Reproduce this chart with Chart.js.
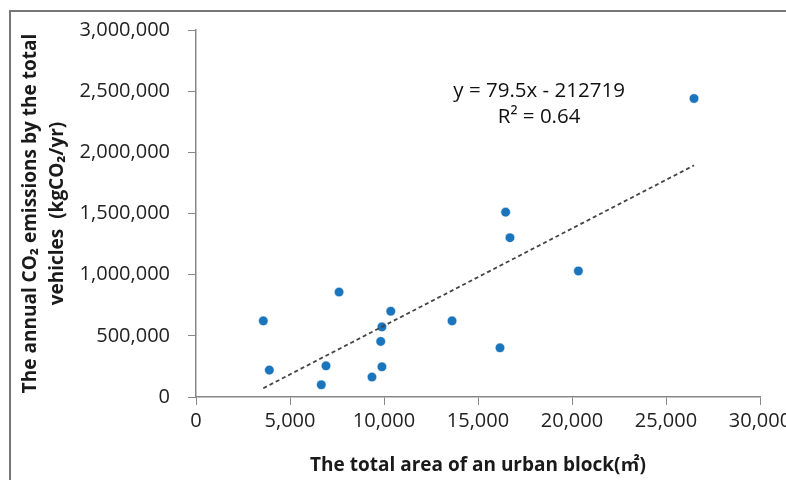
<!DOCTYPE html>
<html>
<head>
<meta charset="utf-8">
<script src="https://cdn.jsdelivr.net/npm/chart.js@4/dist/chart.umd.min.js"></script>
<style>
  html, body { margin: 0; padding: 0; background: #fff; overflow: hidden; }
  .wrap { position: relative; width: 786px; height: 480px; overflow: hidden; }
  .wrap canvas { position: absolute; left: 0; top: 0; }
  .frame {
    position: absolute; left: 9px; top: 10px; right: -10px; bottom: -10px;
    border-top: 2px solid #777; border-left: 2px solid #777;
    pointer-events: none;
  }
</style>
</head>
<body>
<div class="wrap">
  <canvas id="chart" width="820" height="480"></canvas>
  <div class="frame"></div>
</div>
<script>
// Total block area (m2) and annual vehicle CO2 emissions (kgCO2/yr)
const blockArea = [3580, 3900, 7610, 6915, 6665, 9360, 9890, 9825, 9890, 10360, 13620, 16170, 16470, 16700, 20340, 26490];
const co2Emissions = [622000, 220000, 858000, 255000, 100000, 163000, 247000, 454000, 573000, 701000, 622000, 402000, 1511000, 1302000, 1030000, 2440000];

// Linear trendline as printed on the chart
const trendSlope = 79.5;
const trendIntercept = -212719;
const equationLines = ["y = 79.5x - 212719", "R\u00b2 = 0.64"];

const xTicks = [0, 5000, 10000, 15000, 20000, 25000, 30000];
const yTicks = [0, 500000, 1000000, 1500000, 2000000, 2500000, 3000000];

const points = blockArea.map((x, i) => ({ x: x, y: co2Emissions[i] }));
const xMin = Math.min(...blockArea);
const xMax = Math.max(...blockArea);
const trendPoints = [
  { x: xMin, y: trendSlope * xMin + trendIntercept },
  { x: xMax, y: trendSlope * xMax + trendIntercept },
];

const tickFont = { family: "'Open Sans', sans-serif", size: 20 };
const titleFont = { family: "'Open Sans', 'Noto Sans CJK JP', sans-serif", size: 19, weight: "bold", lineHeight: 1.42 };

// Draws the regression equation in data coordinates
const equationLabel = {
  id: "equationLabel",
  afterDatasetsDraw(chart) {
    const { ctx, scales } = chart;
    const x = scales.x.getPixelForValue(18250);
    const y1 = scales.y.getPixelForValue(2500000);
    const y2 = scales.y.getPixelForValue(2290000);
    ctx.save();
    ctx.font = "20.5px 'Open Sans', sans-serif";
    ctx.fillStyle = "#111";
    ctx.textAlign = "center";
    ctx.textBaseline = "middle";
    ctx.fillText(equationLines[0], x, y1);
    ctx.fillText(equationLines[1], x, y2);
    ctx.restore();
  },
};

new Chart(document.getElementById("chart"), {
  type: "scatter",
  data: {
    datasets: [
      {
        label: "Urban blocks",
        data: points,
        backgroundColor: "#1B75BC",
        borderColor: "rgba(255, 255, 255, 0.7)",
        borderWidth: 0.8,
        pointRadius: 4.8,
        order: 1,
      },
      {
        type: "line",
        label: "Linear trend",
        data: trendPoints,
        borderColor: "#444",
        borderWidth: 1.8,
        borderDash: [4, 3],
        pointRadius: 0,
        fill: false,
        order: 0,
      },
    ],
  },
  options: {
    responsive: false,
    animation: false,
    layout: {
      padding: { left: 0, right: 60, top: 29, bottom: 0 },
    },
    plugins: {
      legend: { display: false },
      tooltip: { enabled: false },
    },
    scales: {
      x: {
        type: "linear",
        min: 0,
        max: 30000,
        afterBuildTicks: (scale) => {
          scale.ticks = xTicks.map((v) => ({ value: v }));
        },
        afterFit: (scale) => {
          scale.height = 83;
        },
        grid: {
          drawOnChartArea: false,
          color: "#888",
          tickLength: 8,
        },
        border: { color: "#888", width: 1.5 },
        ticks: {
          color: "#222",
          font: tickFont,
          padding: 4,
          maxRotation: 0,
          callback: (value) => value.toLocaleString("en-US"),
        },
        title: {
          display: true,
          text: "The total area of an urban block(\u33a1)",
          color: "#1a1a1a",
          font: titleFont,
          padding: { top: 0, bottom: 1 },
        },
      },
      y: {
        type: "linear",
        min: 0,
        max: 3000000,
        afterBuildTicks: (scale) => {
          scale.ticks = yTicks.map((v) => ({ value: v }));
        },
        afterFit: (scale) => {
          scale.width = 196;
        },
        grid: {
          drawOnChartArea: false,
          color: "#888",
          tickLength: 8,
        },
        border: { color: "#888", width: 1.5 },
        ticks: {
          color: "#222",
          font: tickFont,
          padding: 18,
          callback: (value) => value.toLocaleString("en-US"),
        },
        title: {
          display: true,
          text: ["The annual CO\u2082 emissions by the total", "vehicles  (kgCO\u2082/yr)"],
          color: "#1a1a1a",
          font: titleFont,
          padding: { top: 17, bottom: 0 },
        },
      },
    },
  },
  plugins: [equationLabel],
});
</script>
</body>
</html>
